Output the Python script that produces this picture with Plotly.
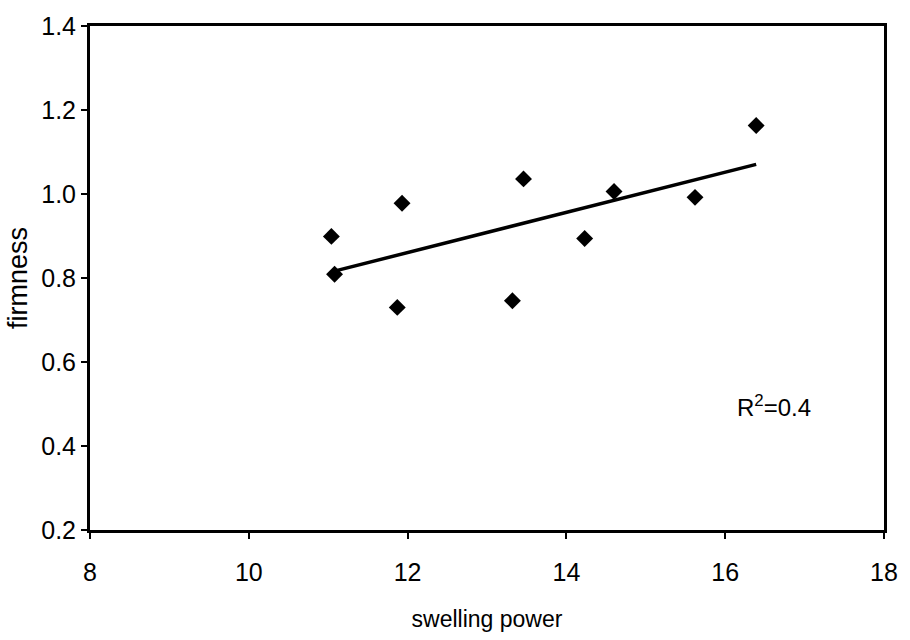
import numpy as np
import plotly.graph_objects as go

swelling_power = [11.04, 11.08, 11.93, 11.87, 13.32, 13.46, 14.23, 14.60, 15.62, 16.39]
firmness = [0.899, 0.809, 0.978, 0.730, 0.746, 1.036, 0.894, 1.006, 0.992, 1.163]
x_ticks = [8, 10, 12, 14, 16, 18]
y_ticks = [0.2, 0.4, 0.6, 0.8, 1.0, 1.2, 1.4]
r2_label = "R<sup>2</sup>=0.4"

FONT = "Liberation Sans, Arial, sans-serif"

slope, intercept = np.polyfit(swelling_power, firmness, 1)
fit_x = [min(swelling_power), max(swelling_power)]
fit_y = [slope * v + intercept for v in fit_x]

fig = go.Figure()
fig.add_trace(go.Scatter(
    x=swelling_power, y=firmness, mode="markers",
    marker=dict(symbol="diamond", size=13, color="black"),
    showlegend=False,
))
fig.add_trace(go.Scatter(
    x=fit_x, y=fit_y, mode="lines",
    line=dict(color="black", width=3.5),
    showlegend=False,
))
fig.add_annotation(
    x=16.12, y=0.495, xref="x", yref="y", text=r2_label, showarrow=False,
    xanchor="left", yanchor="middle",
    font=dict(family=FONT, size=24, color="black"),
)

fig.update_layout(
    width=910, height=640,
    margin=dict(l=90, r=21, t=22, b=108),
    paper_bgcolor="white", plot_bgcolor="white",
    font=dict(family=FONT, color="black"),
)
fig.update_xaxes(
    range=[8, 18], tickvals=x_ticks, ticktext=[str(v) for v in x_ticks],
    showline=True, linecolor="black", linewidth=3, mirror=True,
    ticks="outside", ticklen=6, tickwidth=2, tickcolor="black",
    showgrid=False, zeroline=False, ticklabelstandoff=12,
    tickfont=dict(family=FONT, size=25),
    title=dict(text="swelling power", font=dict(family=FONT, size=23), standoff=26),
)
fig.update_yaxes(
    range=[0.2, 1.4], tickvals=y_ticks, ticktext=[f"{v:.1f}" for v in y_ticks],
    showline=True, linecolor="black", linewidth=3, mirror=True,
    ticks="outside", ticklen=6, tickwidth=2, tickcolor="black",
    showgrid=False, zeroline=False,
    tickfont=dict(family=FONT, size=25),
    title=dict(text="firmness", font=dict(family=FONT, size=27), standoff=6),
)

fig.write_html("out.html")
